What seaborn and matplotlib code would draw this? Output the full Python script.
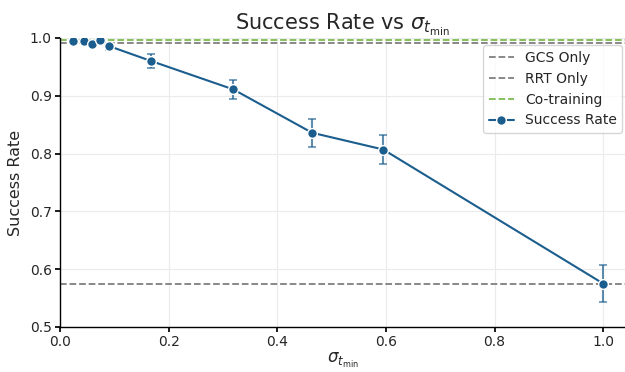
import matplotlib
matplotlib.use("Agg")
import matplotlib.pyplot as plt
import seaborn as sns
import numpy as np
import pandas as pd

sigma = [0.024, 0.044, 0.059, 0.074, 0.090, 0.168, 0.319, 0.464, 0.595, 1.0]
success = [0.995, 0.995, 0.990, 0.996, 0.986, 0.960, 0.911, 0.836, 0.807, 0.575]
err = [0.003, 0.003, 0.005, 0.003, 0.006, 0.012, 0.017, 0.024, 0.025, 0.032]
gcs_only = 0.575
rrt_only = 0.992
cotrain = 0.996

sns.set_theme(style="whitegrid")
plt.rcParams['font.family'] = ['DejaVu Sans']

fig = plt.figure(figsize=(6.25, 3.72), dpi=100)
ax = fig.add_axes([0.096, 0.121, 0.904, 0.777])
color = "#1b5e8e"
df = pd.DataFrame({"sigma": sigma, "success": success})

ax.axhline(gcs_only, color="#7f7f7f", ls="--", lw=1.3, label="GCS Only")
ax.axhline(rrt_only, color="#7f7f7f", ls="--", lw=1.3, label="RRT Only")
ax.axhline(cotrain, color="#7dbb52", ls="--", lw=1.3, label="Co-training")
ax.errorbar(sigma, success, yerr=err, fmt="none", ecolor=color, alpha=0.7,
            capsize=3, elinewidth=1.5, capthick=1.2)
sns.lineplot(data=df, x="sigma", y="success", ax=ax, color=color, marker="o",
             markersize=7, markeredgecolor="white", markeredgewidth=1,
             lw=1.5, label="Success Rate")

ax.set_xlim(0, 1.04)
ax.set_ylim(0.5, 1.0)
ax.set_title(r"Success Rate vs $\sigma_{t_{\min}}$", fontsize=15, pad=6)
ax.set_xlabel(r"$\sigma_{t_{\min}}$", fontsize=12, labelpad=1)
ax.set_ylabel("Success Rate", fontsize=11.5, labelpad=5)
ax.tick_params(labelsize=10, left=True, bottom=True, length=3.5, pad=2.5,
               color="black")
ax.grid(True, color="#ebebeb", lw=0.8)
for s in ["top", "right"]:
    ax.spines[s].set_visible(False)
for s in ["left", "bottom"]:
    ax.spines[s].set_color("black")
    ax.spines[s].set_linewidth(1.0)
handles, labels = ax.get_legend_handles_labels()
ax.legend(handles=handles, labels=labels, loc="upper right",
          bbox_to_anchor=(1.0, 0.985), fontsize=10,
          frameon=True, facecolor="white", edgecolor="#cccccc",
          handlelength=1.8, borderaxespad=0.2)
fig.savefig("out.png", dpi=100)
